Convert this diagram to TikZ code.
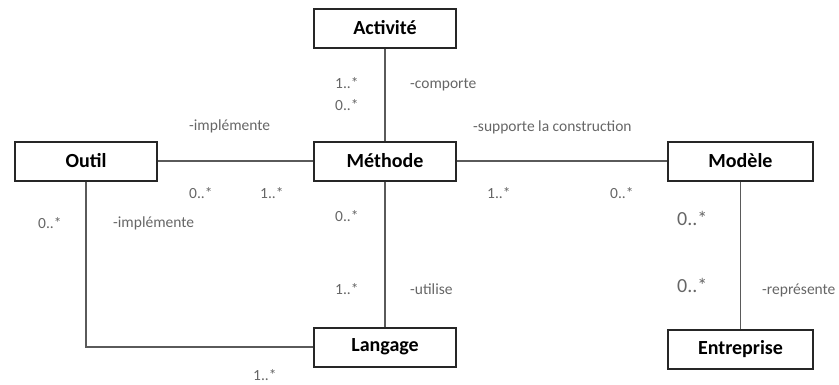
\documentclass[tikz,border=0pt]{standalone}
\usepackage{fontspec}
\setmainfont{Carlito}
\usepackage{tikz}
\usetikzlibrary{positioning}
\definecolor{linegray}{HTML}{5A5A5A}
\definecolor{labelgray}{HTML}{666666}

\begin{document}
\begin{tikzpicture}[
        x=1pt, y=-1pt,
        classstyle/.style={draw=black!85, line width=2pt, fill=white, minimum height=39pt, minimum width=142pt, inner sep=0pt, font=\fontsize{20}{22}\selectfont\bfseries},
        rolestyle/.style={anchor=west, inner sep=0pt, text=labelgray, font=\fontsize{15.5}{17}\selectfont},
        bigrolestyle/.style={rolestyle, font=\fontsize{20}{22}\selectfont},
        pathstyle/.style={draw=linegray, line width=1.8pt}
      ]
        \useasboundingbox (0,0) rectangle (839,384);

        \node[classstyle] (METHODE) at (385,161)
          {Méthode};
        \node[classstyle, above=92pt of METHODE] (ACTIVITE)
          {Activité};
        \node[classstyle, below=145pt of METHODE] (LANGAGE)
          {Langage};
        \node[classstyle, left=155pt of METHODE] (OUTIL)
          {Outil};
        \node[classstyle, minimum width=145pt, right=210pt of METHODE] (MODELE)
          {Modèle};
        \node[classstyle, minimum width=145pt, below=147pt of MODELE] (ENTREPRISE)
          {Entreprise};

        % roles and multiplicities
        \node[rolestyle] (ACT1) at (335,83) {1..*};
        \node[rolestyle] (ACT0) at (335,105) {0..*};
        \node[rolestyle] (COMPORTE) at (410,85) {-comporte};
        \node[rolestyle] (SUPPORTE) at (473,127) {-supporte la construction};
        \node[rolestyle] (IMPL1) at (189,126) {-implémente};
        \node[rolestyle] (OUT0) at (189,193) {0..*};
        \node[rolestyle] (MET1) at (260,193) {1..*};
        \node[rolestyle] (OUTL0) at (38,223) {0..*};
        \node[rolestyle] (IMPL2) at (113,223) {-implémente};
        \node[rolestyle] (LAN1) at (253,375) {1..*};
        \node[rolestyle] (METL0) at (335,216) {0..*};
        \node[rolestyle] (LANM1) at (335,289) {1..*};
        \node[rolestyle] (UTILISE) at (410,289) {-utilise};
        \node[rolestyle] (METMO1) at (487,193) {1..*};
        \node[rolestyle] (MOD0) at (610,193) {0..*};
        \node[bigrolestyle] (MODE0) at (677,218) {0..*};
        \node[bigrolestyle] (ENT0) at (677,285) {0..*};
        \node[rolestyle] (REPRESENTE) at (762,290) {-représente};

        \draw[pathstyle] (ACTIVITE.south) -- (METHODE.north);
        \draw[pathstyle] (OUTIL.east) -- (METHODE.west);
        \draw[pathstyle] (METHODE.east) -- (MODELE.west);
        \draw[pathstyle] (METHODE.south) -- (LANGAGE.north);
        \draw[pathstyle] (MODELE.south) -- (ENTREPRISE.north);
        \draw[pathstyle] (OUTIL.south) |- (LANGAGE.west);
      \end{tikzpicture}
\end{document}
